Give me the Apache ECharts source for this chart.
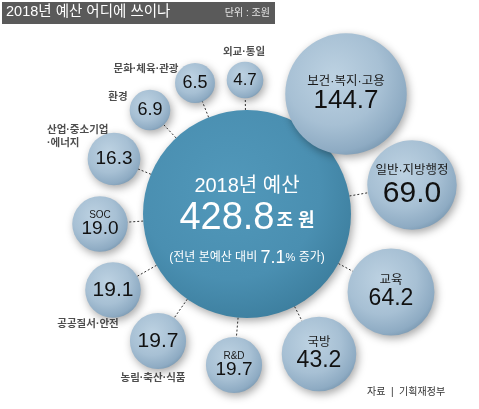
<!DOCTYPE html>
<html>
<head>
<meta charset="utf-8">
<script src="https://cdn.jsdelivr.net/npm/echarts@6/dist/echarts.min.js"></script>
<style>
  html, body { margin: 0; padding: 0; background: #fff; }
  #chart { width: 479px; height: 409px; }
</style>
</head>
<body>
<div id="chart"></div>
<script>
const FONT = '"Liberation Sans", "Noto Sans CJK KR", sans-serif'

// 데이터 (단위: 조원)
const categories = ['보건·복지·고용', '일반·지방행정', '교육', '국방', 'R&D', '농림·축산·식품',
  '공공질서·안전', 'SOC', '산업·중소기업\n·에너지', '환경', '문화·체육·관광', '외교·통일']
const values = [144.7, 69.0, 64.2, 43.2, 19.7, 19.7, 19.1, 19.0, 16.3, 6.9, 6.5, 4.7]
const totalName = '2018년 예산'
const totalValue = 428.8
const totalUnit = '조 원'
const growthRate = 7.1

// 배치 (479x409 화면 기준)
const bubbleX = [346, 412, 391, 319, 234, 158, 113, 100, 114, 150, 195, 245]
const bubbleY = [94, 185, 292, 354, 365, 341, 290, 224, 159, 110, 83, 80]
const nameInside = [true, true, true, true, true, false, false, true, false, false, false, false]
const nameX = [0, 0, 0, 0, 0, 153, 88, 0, 47, 118, 146, 244]
const nameY = [0, 0, 0, 0, 0, 378, 324, 0, 137, 97, 69, 52]
const valueFont = [26, 30, 23, 23, 19, 21, 21, 19, 19, 18, 18, 17]
const totalPos = [247, 214]
const totalRadius = 104

const radius = v => 9 + 4.3 * Math.sqrt(v)

const bubbleFill = {
  type: 'radial', x: 0.4, y: 0.36, r: 0.72,
  colorStops: [
    { offset: 0, color: '#bdd2e2' },
    { offset: 0.55, color: '#a7c0d4' },
    { offset: 0.85, color: '#8eabc3' },
    { offset: 1, color: '#7392ab' },
  ],
}
const totalFill = {
  type: 'radial', x: 0.42, y: 0.38, r: 0.72,
  colorStops: [
    { offset: 0, color: '#5198ba' },
    { offset: 0.6, color: '#4a8fb1' },
    { offset: 0.88, color: '#3e80a0' },
    { offset: 1, color: '#2d6784' },
  ],
}
const shadow = { opacity: 1, shadowBlur: 8, shadowColor: 'rgba(0,0,0,0.35)', shadowOffsetX: 2, shadowOffsetY: 3 }

const bubbleData = [{
  name: totalName,
  value: [totalPos[0], totalPos[1], totalValue],
  symbolSize: totalRadius * 2,
  itemStyle: { color: totalFill, ...shadow },
  label: {
    show: true, position: 'inside', offset: [0, 11],
    formatter: `{a|${totalName}}\n{b|${totalValue.toFixed(1)}}{c|${totalUnit}}\n{d|(전년 본예산 대비 }{e|${growthRate}}{p|%}{d| 증가)}`,
    rich: {
      a: { fontFamily: FONT, fontSize: 20, lineHeight: 32, color: '#fff' },
      b: { fontFamily: FONT, fontSize: 38, lineHeight: 34, color: '#fff' },
      c: { fontFamily: FONT, fontSize: 18, lineHeight: 34, color: '#fff', fontWeight: 'bold', padding: [4, 0, 0, 2] },
      d: { fontFamily: FONT, fontSize: 12, lineHeight: 44, color: '#fff' },
      e: { fontFamily: FONT, fontSize: 18, lineHeight: 44, color: '#fff' },
      p: { fontFamily: FONT, fontSize: 11, lineHeight: 44, color: '#fff' },
    },
  },
}]
categories.forEach((c, i) => {
  const vf = valueFont[i]
  const nf = vf >= 22 ? 12.5 : 10
  const val = values[i].toFixed(1)
  bubbleData.push({
    name: c,
    value: [bubbleX[i], bubbleY[i], values[i]],
    itemStyle: { color: bubbleFill, ...shadow },
    label: {
      show: true, position: 'inside',
      formatter: nameInside[i] ? `{n|${c}}\n{v|${val}}` : `{v|${val}}`,
      rich: {
        n: { fontFamily: FONT, fontSize: nf, lineHeight: Math.round(vf * 0.55), color: '#1a1a1a' },
        v: { fontFamily: FONT, fontSize: vf, lineHeight: nameInside[i] ? Math.round(vf * 0.95) : vf, color: '#111' },
      },
    },
  })
})

const linkData = categories.map((c, i) => ({
  coords: [[totalPos[0], totalPos[1]], [bubbleX[i], bubbleY[i]]],
}))

const outsideNames = []
categories.forEach((c, i) => {
  if (!nameInside[i]) {
    outsideNames.push({
      name: c,
      value: [nameX[i], nameY[i]],
      label: { align: c.includes('\n') ? 'left' : 'center' },
    })
  }
})

const chart = echarts.init(document.getElementById('chart'), null, { renderer: 'canvas' })
chart.setOption({
  backgroundColor: '#fff',
  animation: false,
  grid: { left: 0, right: 0, top: 0, bottom: 0 },
  xAxis: { type: 'value', min: 0, max: 479, show: false },
  yAxis: { type: 'value', min: 0, max: 409, inverse: true, show: false },
  graphic: [
    { type: 'rect', left: 2, top: 2, shape: { width: 273, height: 22 }, style: { fill: '#5a5a5a' } },
    { type: 'text', left: 6, top: 5, style: { text: '2018년 예산 어디에 쓰이나', fill: '#fff', font: `14.5px ${FONT}` } },
    { type: 'text', right: 209, top: 8, style: { text: '단위 : 조원', fill: '#e8e8e8', font: `10px ${FONT}` } },
    { type: 'text', left: 367, top: 387, style: { text: '자료  |  기획재정부', fill: '#333', font: `10px ${FONT}` } },
  ],
  series: [
    {
      type: 'lines',
      coordinateSystem: 'cartesian2d',
      z: 1,
      silent: true,
      lineStyle: { color: '#333', width: 1, type: [2, 2], opacity: 1 },
      data: linkData,
    },
    {
      type: 'scatter',
      z: 2,
      silent: true,
      symbol: 'circle',
      symbolSize: v => radius(v[2]) * 2,
      data: bubbleData,
    },
    {
      type: 'scatter',
      z: 3,
      silent: true,
      symbolSize: 0,
      data: outsideNames,
      label: {
        show: true, position: 'inside', formatter: p => p.name,
        fontFamily: FONT, fontSize: 10.5, fontWeight: 'bold', color: '#222', lineHeight: 13,
      },
    },
  ],
})
</script>
</body>
</html>
